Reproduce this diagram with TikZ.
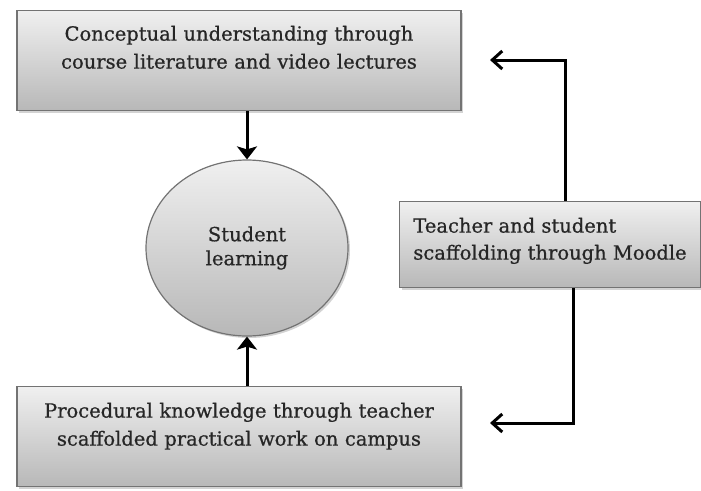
\documentclass[tikz,border=0pt]{standalone}
\usepackage{fontspec}
\setmainfont{DejaVu Serif}[FakeBold=0.7]
\usetikzlibrary{arrows.meta,shadows,shapes.geometric}

\begin{document}
\begin{tikzpicture}[x=1pt,y=1pt,
  every node/.style={font=\fontsize{19.5}{28}\selectfont, text=black!85},
  stage/.style={draw=black!55, line width=1.2pt, top color=black!6, bottom color=black!28,
    drop shadow={shadow xshift=2pt, shadow yshift=-2pt, opacity=0.35}},
  flow/.style={line width=3pt, -{Stealth[width=20pt,length=13pt,inset=3pt]}},
  loop/.style={line width=3pt, -{Straight Barb[length=10pt,width=18pt]}}]
\useasboundingbox (0,0) rectangle (701,-490);

\node[stage, text width=444pt, inner xsep=0pt, inner ysep=0pt, align=center,
  text height=30pt, text depth=70pt] (concept) at (239,-10) [anchor=north]
  {Conceptual understanding through\\course literature and video lectures};

\node[stage, ellipse, minimum width=202pt, minimum height=176pt, inner sep=0pt,
  align=center, font=\fontsize{19.5}{24}\selectfont] (learning) at (247,-248)
  {Student\\learning};

\node[stage, text width=444pt, inner xsep=0pt, inner ysep=0pt, align=center,
  text height=31pt, text depth=69pt] (proc) at (239,-386) [anchor=north]
  {Procedural knowledge through teacher\\scaffolded practical work on campus};

\node[stage, minimum width=301pt, inner ysep=0pt, align=left,
  font=\fontsize{19.5}{27}\selectfont, text height=58pt, text depth=28pt]
  (moodle) at (550,-201) [anchor=north]
  {Teacher and student\\scaffolding through Moodle};

\coordinate (backup) at (490,-60);
\coordinate (backdown) at (490,-423);

\draw[flow] (learning.north |- concept.south) -- (learning.north);
\draw[flow] (learning.south |- proc.north) -- (learning.south);
\draw[loop] ([xshift=15pt]moodle.north) |- (backup);
\draw[loop] ([xshift=23pt]moodle.south) |- (backdown);
\end{tikzpicture}
\end{document}
